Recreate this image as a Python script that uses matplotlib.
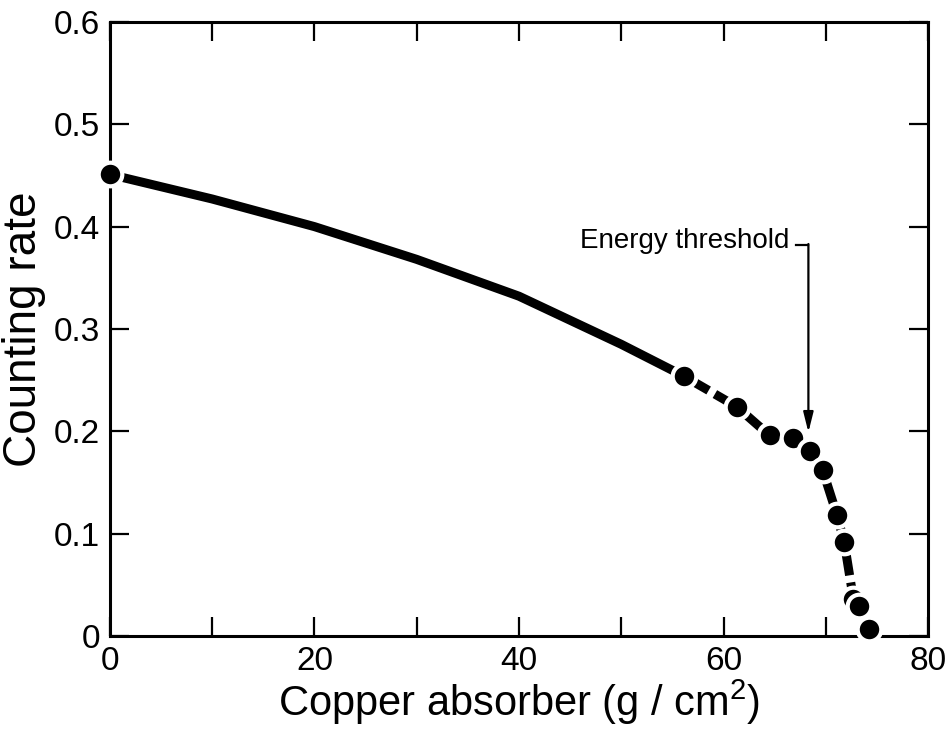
import matplotlib
matplotlib.use("Agg")
import matplotlib.pyplot as plt

# Measured counting rate versus copper absorber thickness
absorber = [0.0, 56.1, 61.3, 64.5, 66.8, 68.5, 69.7, 71.1, 71.8, 72.7, 73.2, 74.2]
rate = [0.451, 0.254, 0.224, 0.196, 0.193, 0.181, 0.162, 0.118, 0.092, 0.036, 0.029, 0.007]

# Smooth fitted curve through the low-thickness region
curve_x = [0.0, 10.0, 20.0, 30.0, 40.0, 50.0, 56.1]
curve_y = [0.451, 0.427, 0.400, 0.368, 0.332, 0.285, 0.254]

x_ticks = [0, 20, 40, 60, 80]
x_minor = [10, 30, 50, 70]
y_ticks = [0, 0.1, 0.2, 0.3, 0.4, 0.5, 0.6]
y_labels = ["0", "0.1", "0.2", "0.3", "0.4", "0.5", "0.6"]

plt.rcParams["font.family"] = ["Liberation Sans", "DejaVu Sans"]
plt.rcParams["mathtext.fontset"] = "custom"
plt.rcParams["mathtext.rm"] = "Liberation Sans"

fig = plt.figure(figsize=(9.47, 7.31), dpi=100)
ax = fig.add_axes([0.116, 0.130, 0.864, 0.840])

# fitted curve: solid part, then dashed through the threshold region
ax.plot(curve_x, curve_y, color="black", lw=6.5, solid_capstyle="butt", zorder=2)
ax.plot(absorber[1:10], rate[1:10], color="black", lw=6.5,
        dashes=(3.2, 0.8), dash_capstyle="butt", zorder=2)
ax.plot(absorber[9:], rate[9:], color="black", lw=5, linestyle=(0, (0.4, 0.4)), zorder=2)

ax.plot(absorber, rate, "o", color="black", markersize=17,
        markeredgecolor="white", markeredgewidth=3, zorder=3, clip_on=False)

# annotation with hooked arrow
ax.text(46.0, 0.386, "Energy threshold", fontsize=20, va="center", ha="left")
ax.plot([67.1, 68.3], [0.382, 0.382], color="black", lw=1.6)
ax.annotate("", xy=(68.3, 0.199), xytext=(68.3, 0.383),
            arrowprops=dict(arrowstyle="-|>,head_length=1.2,head_width=0.3",
                            color="black", lw=1.6, shrinkA=0, shrinkB=0))

ax.set_xlim(0, 80)
ax.set_ylim(0, 0.6)
ax.set_xticks(x_ticks)
ax.set_xticks(x_minor, minor=True)
ax.set_yticks(y_ticks)
ax.set_yticklabels(y_labels)
ax.tick_params(which="both", direction="in", top=True, right=True,
               labelsize=24, width=1.6, pad=7)
ax.tick_params(which="major", length=14)
ax.tick_params(which="minor", length=14)
for s in ax.spines.values():
    s.set_linewidth(2.2)

ax.set_xlabel("Copper absorber (g / cm$^2$)", fontsize=30, labelpad=1)
ax.set_ylabel("Counting rate", fontsize=33, labelpad=6)

fig.savefig("out.png", dpi=100)
